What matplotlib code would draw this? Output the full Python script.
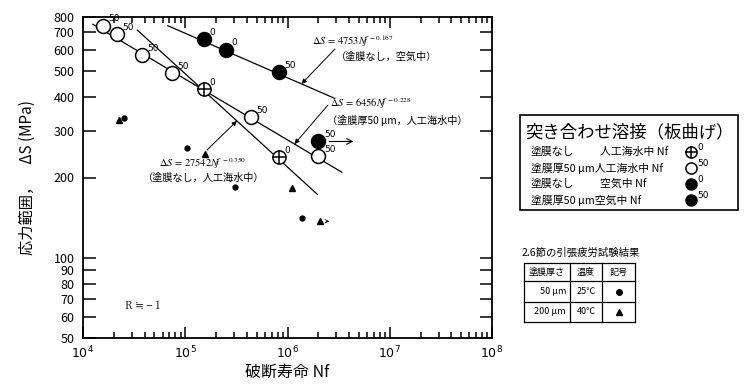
import numpy as np
import matplotlib.pyplot as plt
from matplotlib.patches import Rectangle
from matplotlib.ticker import FixedLocator, FixedFormatter, LogLocator, NullFormatter

plt.rcParams['font.family'] = ['Noto Sans CJK JP', 'DejaVu Sans']

# 塗膜なし, 人工海水中 (crossed circle)
bare_sea_n = [1.51e5, 8.2e5]
bare_sea_s = [428, 238]
bare_sea_tag = ['0', '0']

# 塗膜厚50 um, 人工海水中 (open circle)
coat_sea_n = [1.57e4, 2.15e4, 3.77e4, 7.4e4, 4.35e5, 2.0e6]
coat_sea_s = [743, 688, 574, 492, 336, 240]
coat_sea_tag = ['50', '50', '50', '50', '50', '50']

# 空気中 (filled circle), tag = coating thickness
air_n = [1.51e5, 2.48e5, 8.2e5, 2.0e6]
air_s = [659, 604, 496, 273]
air_tag = ['0', '0', '50', '50']

# 2.6節 tension fatigue results
dot_n = [2.5e4, 1.05e5, 3.04e5, 1.4e6]     # 50 um, 25C
dot_s = [333, 257, 185, 141]
tri_n = [2.24e4, 1.55e5, 1.1e6, 2.1e6]     # 200 um, 40C
tri_s = [330, 246, 182, 137]

# fitted lines  dS = C * Nf^-m
fit_c = [4753, 6456, 27542]
fit_m = [0.167, 0.228, 0.350]
fit_n0 = [6.75e4, 1.25e4, 3.4e4]
fit_n1 = [2.9e6, 3.4e6, 1.96e6]
fit_tip_n = [1.37e6, 1.17e6, 3.2e5]
fit_note = ['（塗膜なし，空気中）', '（塗膜厚50 μm，人工海水中）', '（塗膜なし，人工海水中）']

yticks = [50, 60, 70, 80, 90, 100, 200, 300, 400, 500, 600, 700, 800]
xticks = [1e4, 1e5, 1e6, 1e7, 1e8]
xticklabels = ['$10^4$', '$10^5$', '$10^6$', '$10^7$', '$10^8$']

legend_title = '突き合わせ溶接（板曲げ）'
legend_left = ['塗膜なし', '塗膜厚50 μm人工海水中 Nf', '塗膜なし', '塗膜厚50 μm空気中 Nf']
legend_right = ['人工海水中 Nf', '', '空気中 Nf', '']
legend_tag = ['0', '50', '0', '50']

table_title = '2.6節の引張疲労試験結果'
table_head = ['塗膜厚さ', '温度', '記号']
table_thick = ['50 μm', '200 μm']
table_temp = ['25℃', '40℃']

fig = plt.figure(figsize=(7.5, 3.84), dpi=100)
ax = fig.add_axes([83/750, 1 - 338/384, 409/750, 321/384])
ax.set_xscale('log')
ax.set_yscale('log')
ax.set_xlim(1e4, 1e8)
ax.set_ylim(50, 800)

# fitted lines
for c, m, n0, n1 in zip(fit_c, fit_m, fit_n0, fit_n1):
    n = np.array([n0, n1])
    ax.plot(n, c * n**(-m), color='k', lw=0.9)

mk = dict(ls='none', mec='k', mew=1.1, zorder=3)
ax.plot(coat_sea_n, coat_sea_s, 'o', ms=10, mfc='white', **mk)
ax.plot(bare_sea_n, bare_sea_s, 'o', ms=9.5, mfc='white', **mk)
ax.plot(bare_sea_n, bare_sea_s, '+', ms=9.5, **mk)
ax.plot(air_n, air_s, 'o', ms=10, mfc='k', **mk)
ax.plot(dot_n, dot_s, 'o', ms=3.5, mfc='k', ls='none', mec='k')
ax.plot(tri_n, tri_s, '^', ms=3.8, mfc='k', ls='none', mec='k')

for ns, ss, tags in [(coat_sea_n, coat_sea_s, coat_sea_tag),
                     (bare_sea_n, bare_sea_s, bare_sea_tag),
                     (air_n, air_s, air_tag)]:
    for n, s, t in zip(ns, ss, tags):
        ax.annotate(t, (n, s), xytext=(4, 2), textcoords='offset points',
                    fontsize=6.5, family='DejaVu Sans', ha='left', va='bottom', zorder=4)

# run-out arrows
ax.annotate('', xy=(air_n[-1] * 2.35, air_s[-1]), xytext=(air_n[-1] * 1.2, air_s[-1]),
            arrowprops=dict(arrowstyle='->', lw=0.8, color='k'))
ax.annotate('', xy=(tri_n[-1] * 1.3, tri_s[-1]), xytext=(tri_n[-1] * 1.07, tri_s[-1]),
            arrowprops=dict(arrowstyle='->', lw=0.6, color='k', mutation_scale=6))

# ticks
ax.yaxis.set_major_locator(FixedLocator(yticks))
ax.yaxis.set_major_formatter(FixedFormatter([str(v) for v in yticks]))
ax.yaxis.set_minor_locator(FixedLocator([]))
ax.xaxis.set_major_locator(FixedLocator(xticks))
ax.xaxis.set_major_formatter(FixedFormatter(xticklabels))
ax.xaxis.set_minor_locator(LogLocator(base=10, subs=np.arange(2, 10)))
ax.xaxis.set_minor_formatter(NullFormatter())
ax.tick_params(which='both', direction='in', top=True, right=True, width=1.1, color='k')
ax.tick_params(axis='y', which='major', length=9, labelsize=9, pad=6)
ax.tick_params(axis='x', which='major', length=8, labelsize=9, pad=5)
ax.tick_params(axis='x', which='minor', length=4.5)
for sp in ax.spines.values():
    sp.set_linewidth(1.3)

ax.set_ylabel('応力範囲，　ΔS (MPa)', fontsize=11)
ax.yaxis.set_label_coords(-0.115, 0.5)
ax.set_xlabel('破断寿命 Nf', fontsize=11.5, labelpad=2)

# overlay in pixel units for annotations, legend and table
ov = fig.add_axes([0, 0, 1, 1], zorder=5)
ov.set_xlim(0, 750)
ov.set_ylim(384, 0)
ov.axis('off')

eq_pos = [(312, 45), (330, 107), (159, 167)]
note_pos = [(336, 57), (327, 120), (143, 178)]
tail_pos = [(335, 49), (328, 105), (207, 150)]
for c, m, note, tip, ep, npos, tp in zip(fit_c, fit_m, fit_note, fit_tip_n,
                                         eq_pos, note_pos, tail_pos):
    ov.text(ep[0], ep[1], r'$\Delta S\,=\,%d N\!f^{\,-%.3f}$' % (c, m),
            math_fontfamily='stix', fontsize=7.5, ha='left', va='baseline')
    ov.text(npos[0], npos[1], note, fontsize=7.3, ha='left', va='center')
    ax.annotate('', xy=(tip, c * tip**(-m)), xycoords='data',
                xytext=(tp[0], 384 - tp[1]), textcoords='figure pixels',
                arrowprops=dict(arrowstyle='-|>', lw=0.7, color='k', mutation_scale=7,
                                shrinkA=0, shrinkB=0))

ov.text(125, 306, 'R ≒ − 1', fontsize=7.5, family=['Noto Serif CJK JP', 'Noto Sans CJK JP', 'DejaVu Serif'],
        ha='left', va='center')

# legend box
ov.add_patch(Rectangle((520, 115), 218, 95, fill=False, lw=1.2, ec='k'))
ov.text(629, 132, legend_title, fontsize=12.5, ha='center', va='center')
rows_y = [152, 168, 184, 200]
for i, y in enumerate(rows_y):
    ov.text(531, y, legend_left[i], fontsize=7.8, ha='left', va='center')
    if legend_right[i]:
        ov.text(600, y, legend_right[i], fontsize=7.8, ha='left', va='center')
    ov.text(697, y - 5, legend_tag[i], fontsize=6.5, family='DejaVu Sans', ha='left', va='center')
ov.plot(691, rows_y[0], 'o', ms=8, mfc='white', mec='k', mew=1.1)
ov.plot(691, rows_y[0], '+', ms=8, mec='k', mew=1.1)
ov.plot(691, rows_y[1], 'o', ms=8, mfc='white', mec='k', mew=1.1)
ov.plot(691, rows_y[2], 'o', ms=8, mfc='k', mec='k')
ov.plot(691, rows_y[3], 'o', ms=8, mfc='k', mec='k')

# table
ov.text(522, 253, table_title, fontsize=7.5, ha='left', va='center')
tx = [524, 570, 602, 635]
ty = [263, 281, 302, 322]
for x in tx:
    ov.plot([x, x], [ty[0], ty[-1]], color='k', lw=0.9)
for y in ty:
    ov.plot([tx[0], tx[-1]], [y, y], color='k', lw=0.9)
for j, h in enumerate(table_head):
    ov.text((tx[j] + tx[j + 1]) / 2, (ty[0] + ty[1]) / 2, h, fontsize=6.5, ha='center', va='center')
for i in range(2):
    yc = (ty[i + 1] + ty[i + 2]) / 2
    ov.text(tx[1] - 4, yc, table_thick[i], fontsize=6.5, ha='right', va='center')
    ov.text((tx[1] + tx[2]) / 2, yc, table_temp[i], fontsize=6.5, ha='center', va='center')
ov.plot((tx[2] + tx[3]) / 2, (ty[1] + ty[2]) / 2, 'o', ms=4, color='k')
ov.plot((tx[2] + tx[3]) / 2, (ty[2] + ty[3]) / 2, '^', ms=4.5, color='k')

fig.savefig('out.png', dpi=100)
